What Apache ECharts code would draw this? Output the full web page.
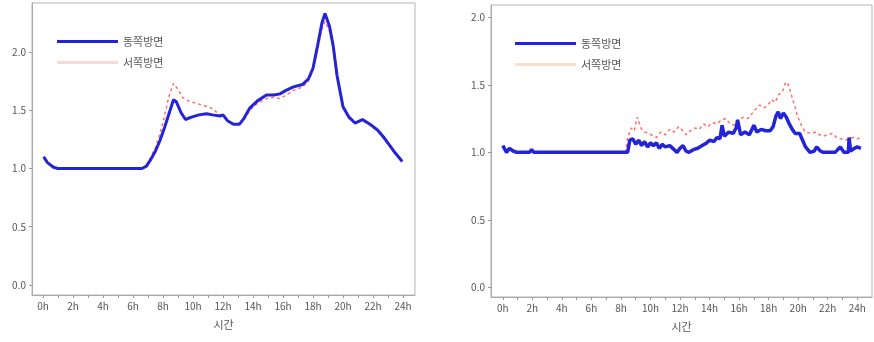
<!DOCTYPE html>
<html><head><meta charset="utf-8">
<script src="https://cdn.jsdelivr.net/npm/echarts@6/dist/echarts.min.js"></script>
<style>html,body{margin:0;padding:0;background:#fff}#c{width:874px;height:342px}</style>
</head><body><div id="c"></div>
<script>
const seriesNames = ['동쪽방면', '서쪽방면'];
const xTickLabels = ['0h','2h','4h','6h','8h','10h','12h','14h','16h','18h','20h','22h','24h'];
const xTickValues = [0,2,4,6,8,10,12,14,16,18,20,22,24];
const yTickValues = [0, 0.5, 1.0, 1.5, 2.0];
const axisTitle = '시간';

// Left chart
const leftEastHours = [0.05,0.3,0.7,1.0,6.6,6.9,7.2,7.5,7.8,8.1,8.4,8.7,8.9,9.2,9.5,9.9,10.4,10.9,11.3,11.8,12.0,12.3,12.7,13.1,13.4,13.8,14.3,14.9,15.4,15.8,16.2,16.7,17.3,17.7,18.0,18.3,18.6,18.8,19.1,19.35,19.6,20.0,20.4,20.8,21.3,21.8,22.3,22.7,23.1,23.5,23.95];
const leftEast = [1.10,1.05,1.01,1.0,1.0,1.02,1.08,1.15,1.24,1.35,1.47,1.59,1.57,1.48,1.42,1.44,1.46,1.47,1.46,1.45,1.46,1.41,1.38,1.38,1.43,1.52,1.58,1.63,1.63,1.64,1.67,1.70,1.72,1.77,1.86,2.05,2.25,2.33,2.22,2.05,1.80,1.53,1.44,1.39,1.42,1.38,1.33,1.27,1.20,1.13,1.06];
const leftWestHours = [0.05,0.3,0.7,1.0,6.6,6.9,7.2,7.5,7.8,8.1,8.4,8.7,9.0,9.3,9.7,10.2,10.7,11.2,11.7,12.0,12.3,12.7,13.1,13.4,13.8,14.3,14.9,15.4,15.8,16.2,16.7,17.3,17.7,18.0,18.3,18.6,18.8,19.1,19.35,19.6,20.0,20.4,20.8,21.3,21.8,22.3,22.7,23.1,23.5,23.95];
const leftWest = [1.09,1.05,1.01,1.0,1.0,1.03,1.10,1.18,1.30,1.45,1.62,1.73,1.68,1.61,1.58,1.56,1.54,1.52,1.47,1.45,1.41,1.38,1.38,1.42,1.50,1.56,1.60,1.61,1.60,1.63,1.67,1.70,1.75,1.84,2.02,2.20,2.26,2.18,2.02,1.78,1.52,1.43,1.39,1.41,1.37,1.32,1.26,1.19,1.12,1.06];

// Right chart
const rightEastHours = [0.0,0.15,0.25,0.45,0.7,0.95,1.8,1.95,2.1,8.45,8.6,8.8,9.0,9.2,9.4,9.6,9.8,10.0,10.2,10.4,10.6,10.8,11.0,11.3,11.6,11.8,12.0,12.2,12.4,12.6,12.9,13.2,13.5,13.8,14.0,14.3,14.5,14.7,14.85,15.0,15.3,15.6,15.8,15.9,16.1,16.4,16.7,17.0,17.2,17.5,17.8,18.1,18.3,18.5,18.65,18.8,19.0,19.2,19.4,19.6,19.8,20.1,20.3,20.5,20.8,21.1,21.25,21.5,21.7,22.5,22.85,23.1,23.4,23.45,23.55,23.8,24.0,24.25];
const rightEast = [1.05,1.02,1.00,1.03,1.01,1.00,1.00,1.02,1.00,1.00,1.09,1.10,1.06,1.09,1.05,1.08,1.04,1.07,1.05,1.07,1.03,1.06,1.04,1.05,1.02,1.00,1.03,1.05,1.01,1.00,1.02,1.03,1.05,1.07,1.09,1.08,1.11,1.10,1.20,1.12,1.15,1.14,1.18,1.24,1.13,1.15,1.13,1.20,1.15,1.17,1.16,1.16,1.19,1.27,1.30,1.25,1.29,1.26,1.21,1.17,1.14,1.14,1.09,1.04,1.00,1.01,1.04,1.01,1.00,1.00,1.04,1.00,1.00,1.11,1.01,1.03,1.04,1.03];
const rightWestHours = [0.0,0.15,0.25,0.45,0.7,0.95,1.8,1.95,2.1,8.3,8.45,8.7,8.9,9.1,9.35,9.6,9.9,10.2,10.4,10.7,11.0,11.3,11.6,11.9,12.1,12.4,12.7,13.0,13.3,13.6,13.9,14.2,14.5,14.8,15.1,15.4,15.7,16.0,16.3,16.6,16.9,17.2,17.4,17.7,17.95,18.2,18.45,18.7,18.95,19.15,19.35,19.55,19.75,19.95,20.1,20.3,20.5,20.9,21.2,21.45,21.7,22.0,22.3,22.6,22.9,23.2,23.5,23.7,24.0,24.25];
const rightWest = [1.05,1.02,1.00,1.03,1.01,1.00,1.00,1.02,1.00,1.00,1.11,1.18,1.16,1.26,1.18,1.15,1.14,1.12,1.11,1.15,1.13,1.17,1.15,1.19,1.17,1.13,1.16,1.18,1.17,1.21,1.19,1.22,1.21,1.24,1.25,1.21,1.20,1.24,1.26,1.25,1.29,1.33,1.35,1.33,1.35,1.39,1.37,1.43,1.45,1.52,1.50,1.42,1.35,1.27,1.23,1.18,1.15,1.14,1.15,1.13,1.12,1.13,1.14,1.11,1.10,1.09,1.10,1.11,1.10,1.11];

const pairs = (xs, ys) => xs.map((x, i) => [x, ys[i]]);
const allHours = Array.from({length: 25}, (_, i) => i);

const EAST_COLOR = '#2323d8';
const WEST_COLOR = '#ff4a4a';
const labelStyle = {color: '#555', fontSize: 10, fontFamily: 'Noto Sans CJK KR, Noto Sans, sans-serif'};

function xAxis(gridIndex, min, max) {
  return {
    type: 'value', gridIndex, min, max,
    name: axisTitle, nameLocation: 'middle', nameGap: 24,
    nameTextStyle: {color: '#555', fontSize: 11, fontFamily: 'Noto Sans CJK KR, sans-serif'},
    axisLine: {show: true, onZero: false, lineStyle: {color: '#aaa'}},
    axisTick: {show: true, length: 3, lineStyle: {color: '#999'}, customValues: allHours},
    axisLabel: {...labelStyle, margin: 6, customValues: xTickValues,
      formatter: v => xTickLabels[xTickValues.indexOf(v)]},
    splitLine: {show: false}
  };
}
function yAxis(gridIndex, min, max) {
  return {
    type: 'value', gridIndex, min, max,
    axisLine: {show: true, onZero: false, lineStyle: {color: '#aaa'}},
    axisTick: {show: true, length: 3, lineStyle: {color: '#999'}, customValues: yTickValues},
    axisLabel: {...labelStyle, margin: 6, customValues: yTickValues, formatter: v => v.toFixed(1)},
    splitLine: {show: false}
  };
}
function eastSeries(i, data, w) {
  return {name: seriesNames[0], type: 'line', xAxisIndex: i, yAxisIndex: i, data,
    showSymbol: false, z: 3, lineStyle: {color: EAST_COLOR, width: w}, itemStyle: {color: EAST_COLOR}};
}
function westSeries(i, data) {
  return {name: seriesNames[1], type: 'line', xAxisIndex: i, yAxisIndex: i, data,
    showSymbol: false, z: 2, lineStyle: {color: WEST_COLOR, width: 1.5, type: [3, 3], opacity: 0.8}, itemStyle: {color: WEST_COLOR}};
}
function legend(left, top) {
  return {left, top, orient: 'vertical', itemWidth: 61, itemHeight: 14, itemGap: 10,
    icon: 'path://M0,0 L61,0 L61,3 L0,3 Z',
    textStyle: {color: '#555', fontSize: 11, fontFamily: 'Noto Sans CJK KR, sans-serif'}};
}

const chart = echarts.init(document.getElementById('c'), null, {renderer: 'canvas'});
chart.setOption({
  animation: false,
  backgroundColor: '#fff',
  grid: [
    {left: 32, top: 3, width: 383, height: 292, show: true, borderColor: '#b5b5b5', borderWidth: 1},
    {left: 491, top: 5, width: 381, height: 292, show: true, borderColor: '#b5b5b5', borderWidth: 1}
  ],
  legend: [
    {...legend(52, 31), data: [
      {name: seriesNames[0], itemStyle: {color: EAST_COLOR}},
      {name: seriesNames[1], itemStyle: {color: '#f8d8d8'}}]},
    {...legend(510, 33), data: [
      {name: seriesNames[0], itemStyle: {color: EAST_COLOR}},
      {name: seriesNames[1], itemStyle: {color: '#f8e0d0'}}]}
  ],
  xAxis: [xAxis(0, -0.73, 24.8), xAxis(1, -0.8, 25)],
  yAxis: [yAxis(0, -0.086, 2.42), yAxis(1, -0.07, 2.09)],
  series: [
    westSeries(0, pairs(leftWestHours, leftWest)),
    eastSeries(0, pairs(leftEastHours, leftEast), 3),
    westSeries(1, pairs(rightWestHours, rightWest)),
    eastSeries(1, pairs(rightEastHours, rightEast), 3.5)
  ]
});
</script>
</body></html>
